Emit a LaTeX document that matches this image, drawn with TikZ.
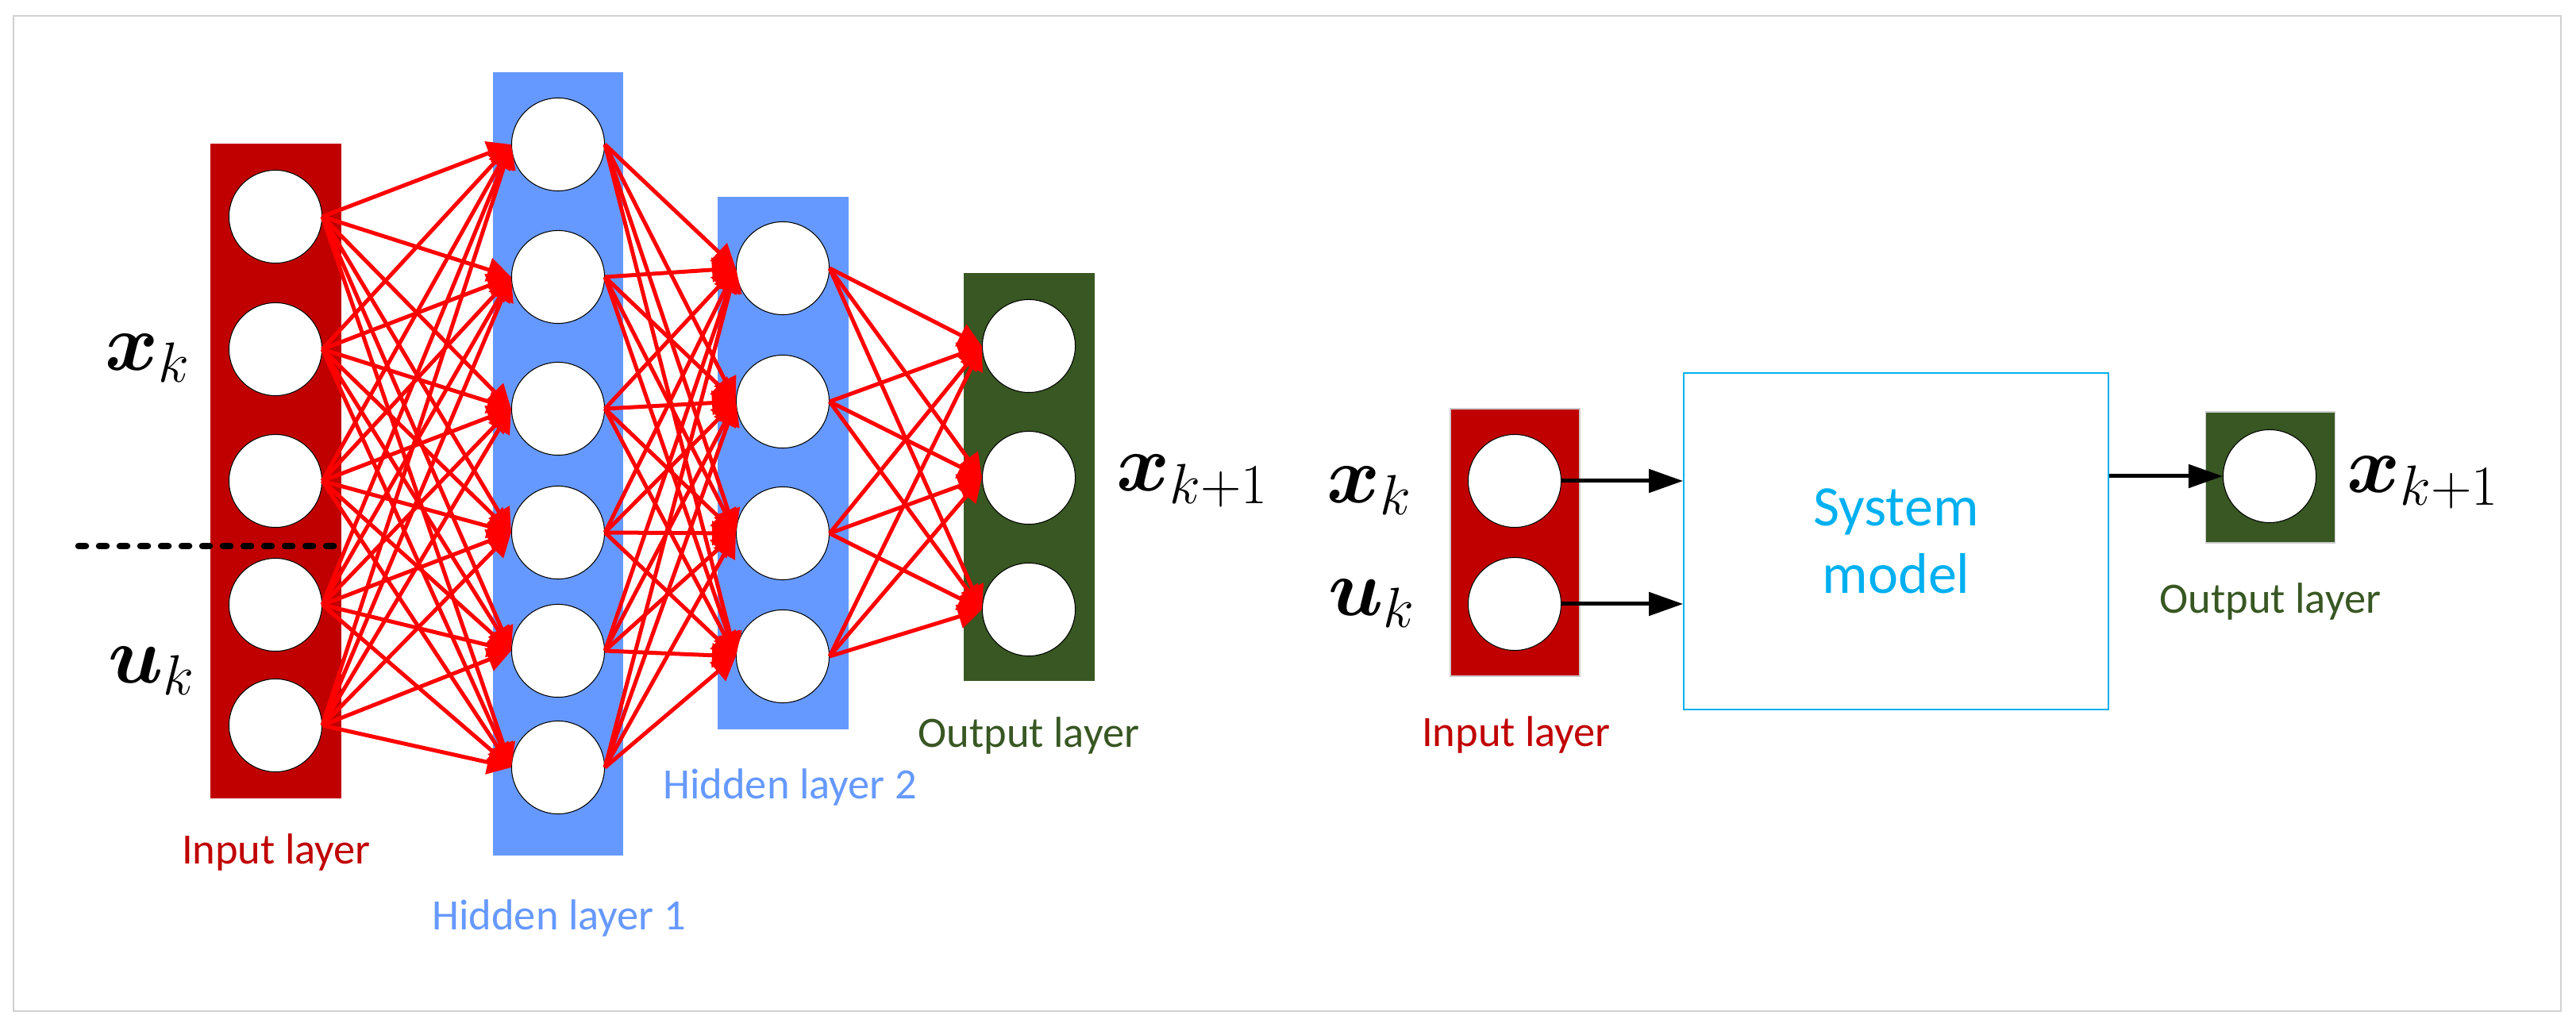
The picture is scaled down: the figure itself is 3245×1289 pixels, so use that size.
\RequirePackage{fix-cm}
\documentclass[tikz,border=0pt]{standalone}
\usepackage{amsmath, amssymb}
\usepackage[no-math]{fontspec}
\setmainfont{Carlito}
\usepackage{tikz}
\usetikzlibrary{arrows.meta}
\definecolor{inred}{HTML}{C00000}
\definecolor{hidblue}{HTML}{6699FF}
\definecolor{outgreen}{HTML}{385723}
\definecolor{sysblue}{HTML}{00B0F0}

\begin{document}
\begin{tikzpicture}[x=0.01cm, y=-0.01cm,
  neuron/.style={circle, draw=black, line width=0.3pt, fill=white, minimum size=1.17cm, inner sep=0pt},
  link/.style={red, line width=0.05cm, -{Triangle[length=0.3cm, width=0.3cm]}},
  feed/.style={black, line width=0.05cm, -{Triangle[length=0.43cm, width=0.29cm]}},
  lab/.style={font=\fontsize{29}{33}\selectfont, inner sep=0pt},
  txt/.style={font=\fontsize{15.5}{18}\selectfont, anchor=base, inner sep=0pt}]
\useasboundingbox (0,0) rectangle (3245,1289);
\draw[black!18, line width=0.015cm] (17,20) rectangle (3226,1274);
\fill[inred] (265,181) rectangle (430,1006);
\fill[hidblue] (621,91) rectangle (785,1078);
\fill[hidblue] (904,248) rectangle (1069,919);
\fill[outgreen] (1214,344) rectangle (1379,858);
\node[neuron] (i1) at (347,273) {};
\node[neuron] (i2) at (347,440) {};
\node[neuron] (i3) at (347,606) {};
\node[neuron] (i4) at (347,762) {};
\node[neuron] (i5) at (347,914) {};
\node[neuron] (h1) at (703,182) {};
\node[neuron] (h2) at (703,349) {};
\node[neuron] (h3) at (703,515) {};
\node[neuron] (h4) at (703,671) {};
\node[neuron] (h5) at (703,820) {};
\node[neuron] (h6) at (703,967) {};
\node[neuron] (g1) at (986,338) {};
\node[neuron] (g2) at (986,506) {};
\node[neuron] (g3) at (986,672) {};
\node[neuron] (g4) at (986,827) {};
\node[neuron] (o1) at (1296,436) {};
\node[neuron] (o2) at (1296,602) {};
\node[neuron] (o3) at (1296,768) {};
\draw[link] (i1.east)--(h1.west);
\draw[link] (i1.east)--(h2.west);
\draw[link] (i1.east)--(h3.west);
\draw[link] (i1.east)--(h4.west);
\draw[link] (i1.east)--(h5.west);
\draw[link] (i1.east)--(h6.west);
\draw[link] (i2.east)--(h1.west);
\draw[link] (i2.east)--(h2.west);
\draw[link] (i2.east)--(h3.west);
\draw[link] (i2.east)--(h4.west);
\draw[link] (i2.east)--(h5.west);
\draw[link] (i2.east)--(h6.west);
\draw[link] (i3.east)--(h1.west);
\draw[link] (i3.east)--(h2.west);
\draw[link] (i3.east)--(h3.west);
\draw[link] (i3.east)--(h4.west);
\draw[link] (i3.east)--(h5.west);
\draw[link] (i3.east)--(h6.west);
\draw[link] (i4.east)--(h1.west);
\draw[link] (i4.east)--(h2.west);
\draw[link] (i4.east)--(h3.west);
\draw[link] (i4.east)--(h4.west);
\draw[link] (i4.east)--(h5.west);
\draw[link] (i4.east)--(h6.west);
\draw[link] (i5.east)--(h1.west);
\draw[link] (i5.east)--(h2.west);
\draw[link] (i5.east)--(h3.west);
\draw[link] (i5.east)--(h4.west);
\draw[link] (i5.east)--(h5.west);
\draw[link] (i5.east)--(h6.west);
\draw[link] (h1.east)--(g1.west);
\draw[link] (h1.east)--(g2.west);
\draw[link] (h1.east)--(g3.west);
\draw[link] (h1.east)--(g4.west);
\draw[link] (h2.east)--(g1.west);
\draw[link] (h2.east)--(g2.west);
\draw[link] (h2.east)--(g3.west);
\draw[link] (h2.east)--(g4.west);
\draw[link] (h3.east)--(g1.west);
\draw[link] (h3.east)--(g2.west);
\draw[link] (h3.east)--(g3.west);
\draw[link] (h3.east)--(g4.west);
\draw[link] (h4.east)--(g1.west);
\draw[link] (h4.east)--(g2.west);
\draw[link] (h4.east)--(g3.west);
\draw[link] (h4.east)--(g4.west);
\draw[link] (h5.east)--(g1.west);
\draw[link] (h5.east)--(g2.west);
\draw[link] (h5.east)--(g3.west);
\draw[link] (h5.east)--(g4.west);
\draw[link] (h6.east)--(g1.west);
\draw[link] (h6.east)--(g2.west);
\draw[link] (h6.east)--(g3.west);
\draw[link] (h6.east)--(g4.west);
\draw[link] (g1.east)--(o1.west);
\draw[link] (g1.east)--(o2.west);
\draw[link] (g1.east)--(o3.west);
\draw[link] (g2.east)--(o1.west);
\draw[link] (g2.east)--(o2.west);
\draw[link] (g2.east)--(o3.west);
\draw[link] (g3.east)--(o1.west);
\draw[link] (g3.east)--(o2.west);
\draw[link] (g3.east)--(o3.west);
\draw[link] (g4.east)--(o1.west);
\draw[link] (g4.east)--(o2.west);
\draw[link] (g4.east)--(o3.west);
\coordinate (cutl) at (99,688);
\coordinate (cutr) at (433,688);
\draw[black, line width=0.085cm, line cap=round, dash pattern=on 0.09cm off 0.17cm] (cutl)--(cutr);
\node[lab] (xk) at (186,451) {$\boldsymbol{x}_k$};
\node[lab] (uk) at (191,845) {$\boldsymbol{u}_k$};
\node[lab] (xkk) at (1502,606) {$\boldsymbol{x}_{k+1}$};
\node[txt, text=inred] (inlab) at (348,1089) {Input layer};
\node[txt, text=hidblue] (h1lab) at (704,1171) {Hidden layer 1};
\node[txt, text=hidblue] (h2lab) at (995,1007) {Hidden layer 2};
\node[txt, text=outgreen] (outlab) at (1296,942) {Output layer};
\filldraw[fill=inred, draw=black!20, line width=0.3pt] (1827,515) rectangle (1990,852);
\filldraw[fill=outgreen, draw=black!20, line width=0.3pt] (2778,519) rectangle (2941,684);
\node[neuron] (ri1) at (1908,606) {};
\node[neuron] (ri2) at (1908,761) {};
\node[neuron] (ro) at (2859,600) {};
\node[draw=sysblue, line width=0.4pt, minimum width=5.35cm, minimum height=4.24cm, text=sysblue, align=center, font=\fontsize{20.5}{24}\selectfont] (sys) at (2388.5,682) {System\\model};
\draw[feed] (ri1.east)--(ri1 -| sys.west);
\draw[feed] (ri2.east)--(ri2 -| sys.west);
\draw[feed] (ro -| sys.east)--(ro.west);
\node[lab] (rxk) at (1725,618) {$\boldsymbol{x}_k$};
\node[lab] (ruk) at (1728,760) {$\boldsymbol{u}_k$};
\node[lab] (rxkk) at (3052,608) {$\boldsymbol{x}_{k+1}$};
\node[txt, text=inred] (rinlab) at (1910,941) {Input layer};
\node[txt, text=outgreen] (routlab) at (2860,773) {Output layer};
\end{tikzpicture}
\end{document}
